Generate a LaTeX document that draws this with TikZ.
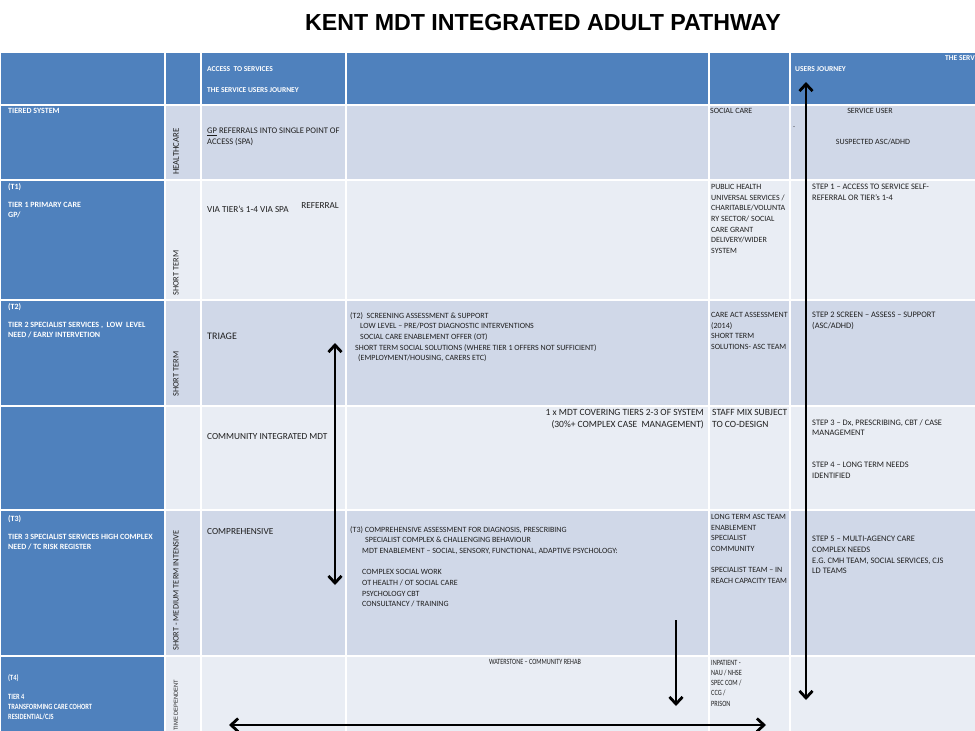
\documentclass[tikz,border=0pt]{standalone}
\usepackage{fontspec}
\setmainfont{Carlito}
\newfontfamily\titlefont{Liberation Sans}
\usetikzlibrary{arrows.meta}
\definecolor{hdrblue}{HTML}{4F81BD}
\definecolor{rowdark}{HTML}{D0D8E8}
\definecolor{rowlight}{HTML}{E9EDF4}
\definecolor{inkc}{HTML}{1F1F1F}
\newcommand{\narrowlines}[2]{\scalebox{#1}[1]{\begin{tabular}{@{}l@{}}#2\end{tabular}}}
\begin{document}
\begin{tikzpicture}[x=1pt,y=-1pt,
  cell/.style={draw=white,line width=2pt},
  wtxt/.style={anchor=north west,inner sep=0pt,text=white,font=\fontsize{8}{10.2}\selectfont\bfseries,align=left},
  htxt/.style={anchor=north west,inner sep=0pt,text=white,font=\fontsize{7.5}{10}\selectfont\bfseries,align=left},
  btxt/.style={anchor=north west,inner sep=0pt,text=inkc,font=\fontsize{8}{10.7}\selectfont,align=left},
  steptxt/.style={anchor=north west,inner sep=0pt,text=inkc,font=\fontsize{8.4}{10.7}\selectfont,align=left},
  smalltxt/.style={anchor=north west,inner sep=0pt,text=inkc,font=\fontsize{8}{10.2}\selectfont,align=left},
  bigtxt/.style={anchor=north west,inner sep=0pt,text=inkc,font=\fontsize{9.3}{12}\selectfont,align=left},
  midtxt/.style={anchor=north west,inner sep=0pt,text=inkc,font=\fontsize{9.5}{12}\selectfont,align=left},
  vtxt/.style={anchor=west,rotate=90,inner sep=0pt,text=inkc,font=\fontsize{8.4}{9}\selectfont},
  bigarrow/.style={line width=2.8pt,black,{Straight Barb[length=7pt,width=13pt]}-{Straight Barb[length=7pt,width=13pt]}},
  onearrow/.style={line width=2.8pt,black,-{Straight Barb[length=7pt,width=13pt]}}
]
\useasboundingbox (0,0) rectangle (975,731);
\fill[white] (0,0) rectangle (975,731);
% title
\node[font=\titlefont\fontsize{23.2}{26}\selectfont\bfseries] (title) at (543,23) {KENT MDT INTEGRATED ADULT PATHWAY};
% header row
\foreach \a/\b in {0/165,165/201,201/346,346/709,709/790,790/985}
  \filldraw[cell,fill=hdrblue] (\a,52) rectangle (\b,105);
% body rows
\foreach \ya/\yb/\c in {105/180/rowdark,180/300/rowlight,300/406/rowdark,406/510/rowlight,510/656/rowdark,656/745/rowlight}{
  \filldraw[cell,fill=hdrblue] (0,\ya) rectangle (165,\yb);
  \foreach \a/\b in {165/201,201/346,346/709,709/790,790/985}
    \filldraw[cell,fill=\c] (\a,\ya) rectangle (\b,\yb);
}
% header texts
\node[htxt] (h1) at (207,66) {ACCESS\ \ TO SERVICES};
\node[htxt] (h2) at (207,87) {THE SERVICE USERS JOURNEY};
\node[htxt] (h3) at (795,66) {USERS JOURNEY};
\node[htxt,anchor=north east] (h4) at (975,55) {THE SERV};
% healthcare row
\node[wtxt] (ts) at (8,108) {TIERED SYSTEM};
\node[vtxt,font=\fontsize{8.8}{9}\selectfont] (hc) at (176,175) {HEALTHCARE};
\node[btxt,font=\fontsize{8.6}{10.7}\selectfont] (gp) at (207,128) {\underline{GP} REFERRALS INTO SINGLE POINT OF\\ACCESS (SPA)};
\node[btxt] (sc) at (710,108) {SOCIAL CARE};
\node[btxt,anchor=north] (su) at (870,108) {SERVICE USER};
\node[btxt] (dot) at (793,126) {.};
\node[btxt,anchor=north] (asc) at (873,139) {SUSPECTED ASC/ADHD};
% T1 row
\node[wtxt] (t1a) at (8,183) {(T1)\\[8pt]TIER 1 PRIMARY CARE\\GP/};
\node[vtxt] (st1) at (176,296) {SHORT TERM};
\node[btxt,font=\fontsize{9.2}{11}\selectfont,anchor=north east] (ref) at (339,202) {REFERRAL};
\node[btxt,font=\fontsize{9.2}{11}\selectfont] (via) at (207,206) {VIA TIER's 1-4 VIA SPA};
\node[btxt] (ph) at (711,184) {PUBLIC HEALTH\\UNIVERSAL SERVICES /\\CHARITABLE/VOLUNTA\\RY SECTOR/ SOCIAL\\CARE GRANT\\DELIVERY/WIDER\\SYSTEM};
\node[steptxt] (s1) at (812,184) {STEP 1 -- ACCESS TO SERVICE SELF-\\REFERRAL OR TIER's 1-4};
% T2 row
\node[wtxt] (t2a) at (8,303) {(T2)\\[8pt]TIER 2 SPECIALIST SERVICES ,\ \ LOW\ \ LEVEL\\NEED / EARLY INTERVETION};
\node[vtxt] (st2) at (176,397) {SHORT TERM};
\node[bigtxt,font=\fontsize{10}{12}\selectfont] (tri) at (207,333) {TRIAGE};
\node[btxt] (t2c) at (350,312) {(T2)\ \ SCREENING ASSESSMENT \& SUPPORT\\
\hspace*{10pt}LOW LEVEL -- PRE/POST DIAGNOSTIC INTERVENTIONS\\
\hspace*{10pt}SOCIAL CARE ENABLEMENT OFFER (OT)\\
\hspace*{5pt}SHORT TERM SOCIAL SOLUTIONS (WHERE TIER 1 OFFERS NOT SUFFICIENT)\\
\hspace*{8pt}(EMPLOYMENT/HOUSING, CARERS ETC)};
\node[btxt] (ca) at (711,312) {CARE ACT ASSESSMENT\\(2014)\\SHORT TERM\\SOLUTIONS- ASC TEAM};
\node[steptxt] (s2) at (812,312) {STEP 2 SCREEN -- ASSESS -- SUPPORT\\(ASC/ADHD)};
% MDT row
\node[bigtxt] (cim) at (207,433) {COMMUNITY INTEGRATED MDT};
\node[midtxt,anchor=north east,align=right] (mdt) at (704,409) {1 x MDT COVERING TIERS 2-3 OF SYSTEM\\(30\%+ COMPLEX CASE\ \ MANAGEMENT)};
\node[midtxt] (sm) at (712,409) {STAFF MIX SUBJECT\\TO CO-DESIGN};
\node[steptxt] (s3) at (812,419) {STEP 3 -- Dx, PRESCRIBING, CBT / CASE\\MANAGEMENT};
\node[steptxt] (s4) at (812,462) {STEP 4 -- LONG TERM NEEDS\\IDENTIFIED};
% T3 row
\node[wtxt] (t3a) at (8,515) {(T3)\\[8pt]TIER 3 SPECIALIST SERVICES HIGH COMPLEX\\NEED / TC RISK REGISTER};
\node[vtxt] (st3) at (176,651) {SHORT - MEDIUM TERM INTENSIVE};
\node[bigtxt] (comp) at (207,528) {COMPREHENSIVE};
\node[btxt] (t3c) at (350,526) {(T3) COMPREHENSIVE ASSESSMENT FOR DIAGNOSIS, PRESCRIBING\\
\hspace*{15pt}SPECIALIST COMPLEX \& CHALLENGING BEHAVIOUR\\
\hspace*{12pt}MDT ENABLEMENT -- SOCIAL, SENSORY, FUNCTIONAL, ADAPTIVE PSYCHOLOGY:\\[10.7pt]
\hspace*{12pt}COMPLEX SOCIAL WORK\\
\hspace*{12pt}OT HEALTH / OT SOCIAL CARE\\
\hspace*{12pt}PSYCHOLOGY CBT\\
\hspace*{12pt}CONSULTANCY / TRAINING};
\node[btxt] (lt) at (711,514) {LONG TERM ASC TEAM\\ENABLEMENT\\SPECIALIST\\COMMUNITY\\[10.7pt]SPECIALIST TEAM -- IN\\REACH CAPACITY TEAM};
\node[steptxt] (s5) at (812,536) {STEP 5 -- MULTI-AGENCY CARE\\COMPLEX NEEDS\\E.G. CMH TEAM, SOCIAL SERVICES, CJS\\LD TEAMS};
% T4 row
\node[wtxt,anchor=north west] (t4a) at (8,673) {\narrowlines{0.8}{(T4)\\[9pt]TIER 4\\TRANSFORMING CARE COHORT\\RESIDENTIAL/CJS}};
\node[vtxt,font=\titlefont\fontsize{5.8}{7}\selectfont,text=inkc] (td) at (176,731) {TIME DEPENDENT};
\node[smalltxt,anchor=north] (wat) at (535,657) {\narrowlines{0.77}{WATERSTONE -- COMMUNITY REHAB}};
\node[smalltxt] (inp) at (711,658) {\narrowlines{0.78}{INPATIENT -\\NAU / NHSE\\SPEC COM /\\CCG /\\PRISON}};
% arrows
\coordinate (a1) at (806,82);
\coordinate (a2) at (806,700);
\coordinate (b1) at (335,343);
\coordinate (b2) at (335,585);
\coordinate (c1) at (676,620);
\coordinate (c2) at (676,706);
\coordinate (d1) at (229,725);
\coordinate (d2) at (766,725);
\draw[bigarrow] (a1) -- (a2);
\draw[bigarrow] (b1) -- (b2);
\draw[onearrow] (c1) -- (c2);
\draw[bigarrow] (d1) -- (d2);
\end{tikzpicture}
\end{document}
